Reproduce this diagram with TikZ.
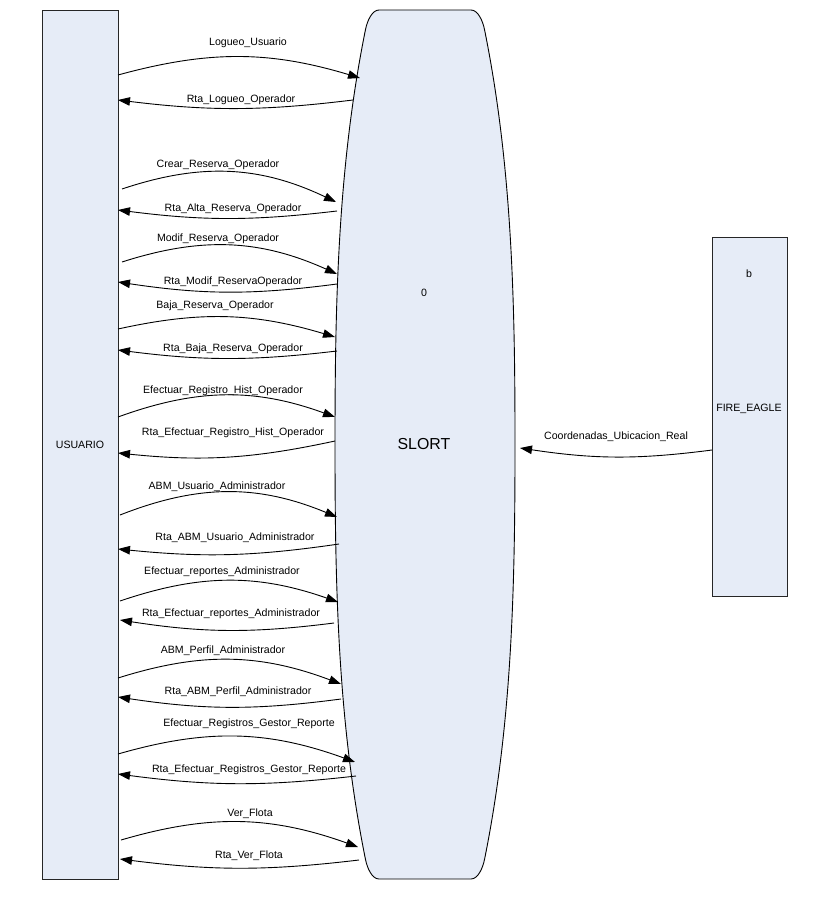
\documentclass[tikz,border=0pt]{standalone}
\usepackage{fontspec}
\setmainfont{Liberation Sans}
\usetikzlibrary{arrows.meta}
\definecolor{boxfill}{RGB}{230,236,247}
\begin{document}
\begin{tikzpicture}[x=1pt,y=-1pt,
  lbl/.style={font=\fontsize{10.6}{12}\selectfont, inner sep=0pt},
  flow/.style={line width=0.9pt, -{Triangle[length=12pt,width=8.5pt]}},
  entity/.style={draw=black!85, line width=0.9pt, fill=boxfill, inner sep=0pt},
]
\useasboundingbox (0,0) rectangle (838,899);

% external entities
\node[entity, minimum width=76pt, minimum height=869pt, font=\fontsize{10.6}{12}\selectfont] (usuario) at (80,444.5) {USUARIO};
\node[entity, minimum width=75pt, minimum height=359pt] (fire) at (749.5,416.5) {};
\node[lbl] (fireid) at (749,274) {b};
\node[lbl] (firename) at (749,409) {FIRE\_EAGLE};

% process SLORT
\begin{scope}[shift={(425,444.5)}]
\draw[line width=0.9pt, fill=boxfill]
  (-46,-434.5) -- (46,-434.5)
  .. controls (53,-434.5) and (57.8,-423.5) .. (59.5,-415)
  .. controls (87.5,-276.7) and (90,-138.3) .. (90,0)
  .. controls (90,138.3) and (87.5,276.7) .. (59.5,415)
  .. controls (57.8,423.5) and (53,434.5) .. (46,434.5)
  -- (-46,434.5)
  .. controls (-53,434.5) and (-57.8,423.5) .. (-59.5,415)
  .. controls (-87.5,276.7) and (-90,138.3) .. (-90,0)
  .. controls (-90,-138.3) and (-87.5,-276.7) .. (-59.5,-415)
  .. controls (-57.8,-423.5) and (-53,-434.5) .. (-46,-434.5) -- cycle;
\end{scope}
\node[lbl] (slortid) at (424,293) {0};
\node[font=\fontsize{15.9}{18}\selectfont, inner sep=0pt] (slort) at (424,444) {SLORT};

% end points on the USUARIO side
\coordinate (u1) at (118,75);   \coordinate (u2) at (118,100);
\coordinate (u3) at (122,189);  \coordinate (u4) at (118,210);
\coordinate (u5) at (122,262);  \coordinate (u6) at (118,282);
\coordinate (u7) at (118,329);  \coordinate (u8) at (118,350);
\coordinate (u9) at (118,417);  \coordinate (u10) at (118,453);
\coordinate (u11) at (120,515); \coordinate (u12) at (118,549);
\coordinate (u13) at (120,601); \coordinate (u14) at (120,620);
\coordinate (u15) at (118,678); \coordinate (u16) at (118,697);
\coordinate (u17) at (118,754); \coordinate (u18) at (118,774);
\coordinate (u19) at (121,840); \coordinate (u20) at (120,859);

% end points on the SLORT outline
\coordinate (s1) at (360,78);   \coordinate (s2) at (353,100);
\coordinate (s3) at (336,202);  \coordinate (s4) at (337,211);
\coordinate (s5) at (337,274);  \coordinate (s6) at (337,284);
\coordinate (s7) at (335,337);  \coordinate (s8) at (337,351);
\coordinate (s9) at (335,417);  \coordinate (s10) at (335,441);
\coordinate (s11) at (337,517); \coordinate (s12) at (339,544);
\coordinate (s13) at (338,602); \coordinate (s14) at (334,623);
\coordinate (s15) at (341,684); \coordinate (s16) at (341,699);
\coordinate (s17) at (355,762); \coordinate (s18) at (356,776);
\coordinate (s19) at (358,847); \coordinate (s20) at (359,860);
\coordinate (s21) at (520,448); \coordinate (f21) at (712,450);

% data flows
\draw[flow] (u1) to[bend left=16] (s1);
\draw[flow] (s2) to[bend left=7] (u2);
\draw[flow] (u3) to[bend left=22] (s3);
\draw[flow] (s4) to[bend left=7] (u4);
\draw[flow] (u5) to[bend left=21] (s5);
\draw[flow] (s6) to[bend left=8] (u6);
\draw[flow] (u7) to[bend left=14.5] (s7);
\draw[flow] (s8) to[bend left=7] (u8);
\draw[flow] (u9) to[bend left=20] (s9);
\draw[flow] (s10) to[bend left=9] (u10);
\draw[flow] (u11) to[bend left=22] (s11);
\draw[flow] (s12) to[bend left=7] (u12);
\draw[flow] (u13) to[bend left=19] (s13);
\draw[flow] (s14) to[bend left=8] (u14);
\draw[flow] (u15) to[bend left=19] (s15);
\draw[flow] (s16) to[bend left=8] (u16);
\draw[flow] (u17) to[bend left=18] (s17);
\draw[flow] (s18) to[bend left=7] (u18);
\draw[flow] (u19) to[bend left=18] (s19);
\draw[flow] (s20) to[bend left=7] (u20);
\draw[flow] (f21) to[bend left=8] (s21);

% flow labels
\node[lbl] (l1) at (248,43) {Logueo\_Usuario};
\node[lbl] (l2) at (241,100) {Rta\_Logueo\_Operador};
\node[lbl] (l3) at (218,165) {Crear\_Reserva\_Operador};
\node[lbl] (l4) at (233,209) {Rta\_Alta\_Reserva\_Operador};
\node[lbl] (l5) at (218,239) {Modif\_Reserva\_Operador};
\node[lbl] (l6) at (233,282) {Rta\_Modif\_ReservaOperador};
\node[lbl] (l7) at (215,306) {Baja\_Reserva\_Operador};
\node[lbl] (l8) at (233,349) {Rta\_Baja\_Reserva\_Operador};
\node[lbl] (l9) at (223,391) {Efectuar\_Registro\_Hist\_Operador};
\node[lbl] (l10) at (233,433) {Rta\_Efectuar\_Registro\_Hist\_Operador};
\node[lbl] (l11) at (217,487) {ABM\_Usuario\_Administrador};
\node[lbl] (l12) at (235,538) {Rta\_ABM\_Usuario\_Administrador};
\node[lbl] (l13) at (222,572) {Efectuar\_reportes\_Administrador};
\node[lbl] (l14) at (231,614) {Rta\_Efectuar\_reportes\_Administrador};
\node[lbl] (l15) at (223,651) {ABM\_Perfil\_Administrador};
\node[lbl] (l16) at (238,692) {Rta\_ABM\_Perfil\_Administrador};
\node[lbl] (l17) at (249,724) {Efectuar\_Registros\_Gestor\_Reporte};
\node[lbl] (l18) at (249,770) {Rta\_Efectuar\_Registros\_Gestor\_Reporte};
\node[lbl] (l19) at (250,814) {Ver\_Flota};
\node[lbl] (l20) at (249,856) {Rta\_Ver\_Flota};
\node[lbl] (l21) at (616,437) {Coordenadas\_Ubicacion\_Real};
\end{tikzpicture}
\end{document}
